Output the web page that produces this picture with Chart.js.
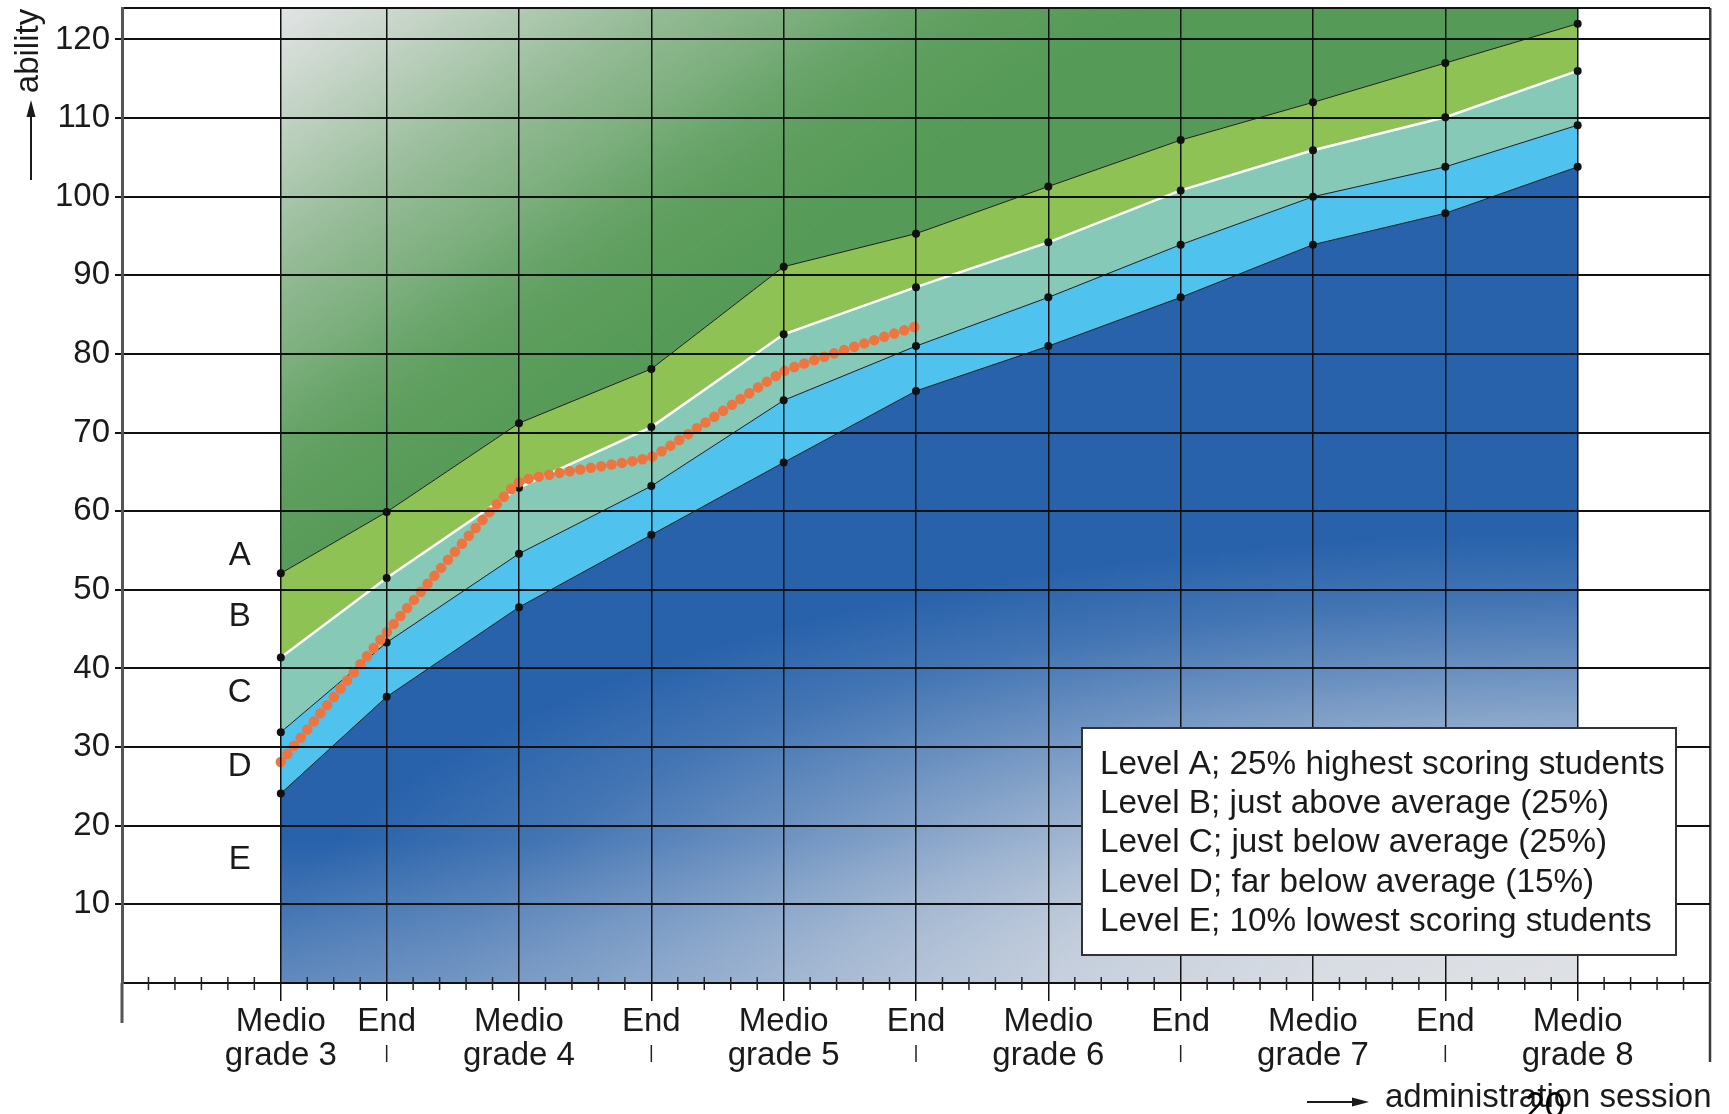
<!DOCTYPE html>
<html lang="en">
<head>
    <meta charset="UTF-8">
    <title>Ability per administration session</title>
    <script src="https://cdn.jsdelivr.net/npm/chart.js"></script>
    <style>
        html, body { margin: 0; padding: 0; background: #fff; }
        #chart-container { width: 1729px; height: 1114px; }
    </style>
</head>
<body>
    <div id="chart-container">
        <canvas id="myChart" width="1729" height="1114"></canvas>
    </div>
    <script>
        // months after "Medio grade 3", one per administration session
        var sessionMonth = [0, 4, 9, 14, 19, 24, 29, 34, 39, 44, 49];
        var sessionLabels = [['Medio', 'grade 3'], 'End', ['Medio', 'grade 4'], 'End', ['Medio', 'grade 5'], 'End',
                             ['Medio', 'grade 6'], 'End', ['Medio', 'grade 7'], 'End', ['Medio', 'grade 8']];

        // lower edge of each level (ability score)
        var levelA = [52.1, 59.9, 71.2, 78.1, 91.1, 95.3, 101.3, 107.2, 112.0, 117.0, 122.0];
        var levelB = [41.4, 51.5, 63.0, 70.7, 82.5, 88.5, 94.2, 100.8, 105.9, 110.1, 116.0];
        var levelC = [31.9, 43.3, 54.6, 63.2, 74.1, 81.0, 87.2, 93.9, 100.0, 103.8, 109.1];
        var levelD = [24.1, 36.4, 47.8, 57.0, 66.2, 75.3, 81.0, 87.2, 93.9, 97.9, 103.8];

        // one student's scores (first six sessions)
        var studentScore = [28.1, 44.6, 63.7, 66.9, 77.8, 83.5];

        var yTickValues = [0, 10, 20, 30, 40, 50, 60, 70, 80, 90, 100, 110, 120, 124];

        var levelLetters = ['A', 'B', 'C', 'D', 'E'];
        var legendLines = [
            'Level A; 25% highest scoring students',
            'Level B; just above average (25%)',
            'Level C; just below average (25%)',
            'Level D; far below average (15%)',
            'Level E; 10% lowest scoring students'
        ];

        var FONT = "'Liberation Sans', Arial, sans-serif";
        var INK = '#1a1a1a';

        function toPoints(values) {
            return values.map(function(v, i) { return { x: sessionMonth[i], y: v }; });
        }

        function isSession(v) {
            return v !== null && Math.abs(v - Math.round(v)) < 1e-6 && sessionMonth.indexOf(Math.round(v)) >= 0;
        }

        function greenFill(context) {
            var chart = context.chart;
            var area = chart.chartArea;
            if (!area) return '#559a56';
            var xs = chart.scales.x;
            var x0 = xs.getPixelForValue(0), y0 = area.top;
            var g = chart.ctx.createLinearGradient(x0, y0, x0 + 280, y0 + 409);
            g.addColorStop(0, '#e3e4e6');
            g.addColorStop(0.16, '#c7d5c9');
            g.addColorStop(0.32, '#a9c6ab');
            g.addColorStop(0.44, '#94ba95');
            g.addColorStop(0.58, '#7fb080');
            g.addColorStop(0.70, '#6aa56b');
            g.addColorStop(0.80, '#5e9e5e');
            g.addColorStop(1, '#559a56');
            return g;
        }

        var bluePattern = null;
        function blueFill(context) {
            var chart = context.chart;
            var area = chart.chartArea;
            if (!area) return '#2862ab';
            if (bluePattern) return bluePattern;
            var xs = chart.scales.x, ys = chart.scales.y;
            var c = document.createElement('canvas');
            c.width = chart.width;
            c.height = chart.height;
            var g = c.getContext('2d');
            g.fillStyle = '#2862ab';
            g.fillRect(0, 0, c.width, c.height);

            // paler toward the bottom edge
            var top = ys.getPixelForValue(18), bottom = ys.getPixelForValue(0);
            var lin = g.createLinearGradient(0, top, 0, bottom);
            lin.addColorStop(0, 'rgba(223,225,229,0)');
            lin.addColorStop(1, 'rgba(223,225,229,0.3)');
            g.fillStyle = lin;
            g.fillRect(0, 0, c.width, c.height);

            // and much paler toward the bottom-right corner
            var cx = xs.getPixelForValue(49.5), cy = ys.getPixelForValue(-0.9);
            var rx = 0.84 * (area.right - area.left), ry = 0.47 * (area.bottom - area.top);
            g.save();
            g.translate(cx, cy);
            g.scale(rx / ry, 1);
            var rad = g.createRadialGradient(0, 0, 0, 0, 0, ry);
            rad.addColorStop(0, 'rgba(223,225,229,1)');
            rad.addColorStop(0.2, 'rgba(223,225,229,0.95)');
            rad.addColorStop(0.4, 'rgba(223,225,229,0.8)');
            rad.addColorStop(0.55, 'rgba(223,225,229,0.6)');
            rad.addColorStop(0.7, 'rgba(223,225,229,0.37)');
            rad.addColorStop(0.85, 'rgba(223,225,229,0.15)');
            rad.addColorStop(1, 'rgba(223,225,229,0)');
            g.fillStyle = rad;
            g.fillRect(-5000, -5000, 10000, 10000);
            g.restore();

            bluePattern = chart.ctx.createPattern(c, 'no-repeat');
            return bluePattern;
        }

        function arrow(ctx, x1, y1, x2, y2) {
            var a = Math.atan2(y2 - y1, x2 - x1);
            ctx.beginPath();
            ctx.moveTo(x1, y1);
            ctx.lineTo(x2 - 12 * Math.cos(a), y2 - 12 * Math.sin(a));
            ctx.stroke();
            ctx.beginPath();
            ctx.moveTo(x2, y2);
            ctx.lineTo(x2 - 17 * Math.cos(a) + 4.5 * Math.sin(a), y2 - 17 * Math.sin(a) - 4.5 * Math.cos(a));
            ctx.lineTo(x2 - 17 * Math.cos(a) - 4.5 * Math.sin(a), y2 - 17 * Math.sin(a) + 4.5 * Math.cos(a));
            ctx.closePath();
            ctx.fill();
        }

        var decorations = {
            id: 'decorations',
            afterDraw: function(chart) {
                var ctx = chart.ctx;
                var xs = chart.scales.x, ys = chart.scales.y;
                var area = chart.chartArea;
                ctx.save();

                // minor ticks crossing the x axis
                ctx.strokeStyle = '#222';
                ctx.lineWidth = 1.5;
                xs.ticks.forEach(function(t) {
                    if (isSession(t.value) || t.value <= xs.min || t.value >= xs.max) return;
                    var px = xs.getPixelForValue(t.value);
                    ctx.beginPath();
                    ctx.moveTo(px, area.bottom - 6);
                    ctx.lineTo(px, area.bottom + 7);
                    ctx.stroke();
                });
                // short marks under the "End" labels
                sessionLabels.forEach(function(l, i) {
                    if (l !== 'End') return;
                    var px = xs.getPixelForValue(sessionMonth[i]);
                    ctx.beginPath();
                    ctx.moveTo(px, area.bottom + 62);
                    ctx.lineTo(px, area.bottom + 79);
                    ctx.stroke();
                });

                // frame lines running below the axis
                ctx.strokeStyle = '#555';
                ctx.lineWidth = 3;
                ctx.beginPath();
                ctx.moveTo(area.left, area.bottom);
                ctx.lineTo(area.left, area.bottom + 40);
                ctx.stroke();
                ctx.strokeStyle = '#3a3a3a';
                ctx.lineWidth = 2.5;
                ctx.beginPath();
                ctx.moveTo(area.right, area.bottom);
                ctx.lineTo(area.right, area.bottom + 79);
                ctx.stroke();

                ctx.fillStyle = INK;
                ctx.strokeStyle = INK;
                ctx.font = '33px ' + FONT;

                // y title with arrow
                ctx.save();
                ctx.translate(29, 51);
                ctx.rotate(-Math.PI / 2);
                ctx.textAlign = 'center';
                ctx.textBaseline = 'middle';
                ctx.fillText('ability', 0, 0);
                ctx.restore();
                ctx.lineWidth = 2;
                arrow(ctx, 31, 180, 31, 100);

                // level letters left of the first session
                var letterY = [54.3, 46.6, 36.9, 27.5, 15.6];
                ctx.textAlign = 'center';
                ctx.textBaseline = 'middle';
                levelLetters.forEach(function(l, i) {
                    ctx.fillText(l, xs.getPixelForValue(-1.55), ys.getPixelForValue(letterY[i]));
                });

                // legend box
                ctx.fillStyle = '#fff';
                ctx.fillRect(1082, 728, 594, 227);
                ctx.strokeStyle = '#333';
                ctx.lineWidth = 2;
                ctx.strokeRect(1082, 728, 594, 227);
                ctx.fillStyle = INK;
                ctx.textAlign = 'left';
                ctx.textBaseline = 'alphabetic';
                ctx.font = '33.3px ' + FONT;
                legendLines.forEach(function(t, i) {
                    ctx.fillText(t, 1100, 774 + i * 39.2);
                });

                // x title with arrow
                ctx.font = '33px ' + FONT;
                ctx.strokeStyle = INK;
                ctx.lineWidth = 2;
                arrow(ctx, 1307, 1102, 1369, 1102);
                ctx.fillText('administration session', 1385, 1107);

                ctx.font = '34px Lato, ' + FONT;
                ctx.fillStyle = '#000';
                ctx.textAlign = 'center';
                ctx.fillText('20', 1545, 1117);

                ctx.restore();
            }
        };

        Chart.defaults.font.family = FONT;
        Chart.defaults.color = INK;

        var lineStyle = {
            borderColor: '#1c1c1c',
            borderWidth: 1,
            pointRadius: 4,
            pointBackgroundColor: '#111',
            pointBorderWidth: 0,
            tension: 0,
            order: 0
        };

        var ctx = document.getElementById('myChart').getContext('2d');
        var myChart = new Chart(ctx, {
            type: 'line',
            data: {
                datasets: [
                    Object.assign({}, lineStyle, { label: 'Level E', data: toPoints(levelD), fill: 'origin', backgroundColor: blueFill }),
                    Object.assign({}, lineStyle, { label: 'Level D', data: toPoints(levelC), fill: 0, backgroundColor: '#50c2ee' }),
                    Object.assign({}, lineStyle, { label: 'Level C', data: toPoints(levelB), fill: 1, backgroundColor: '#85c9b6',
                                                   borderColor: '#ffffff', borderWidth: 2.5 }),
                    Object.assign({}, lineStyle, { label: 'Level B', data: toPoints(levelA), fill: 2, backgroundColor: '#8fc255' }),
                    { label: 'Level A', data: toPoints(levelA), fill: 'end', backgroundColor: greenFill,
                      borderWidth: 0, pointRadius: 0, tension: 0, order: 0 },
                    { label: 'Student', data: toPoints(studentScore), fill: false, borderColor: '#ee7440',
                      borderWidth: 10.5, borderDash: [0, 10.5], borderCapStyle: 'round', pointRadius: 0,
                      tension: 0.1, order: -1 }
                ]
            },
            options: {
                responsive: false,
                animation: false,
                devicePixelRatio: 1,
                events: [],
                layout: { padding: { top: 8, right: 19, bottom: 0, left: 0 } },
                plugins: { legend: { display: false }, tooltip: { enabled: false } },
                scales: {
                    x: {
                        type: 'linear',
                        min: -6,
                        max: 54,
                        afterFit: function(scale) {
                            scale.height = 131;
                            scale.paddingLeft = 0;
                            scale.paddingRight = 0;
                        },
                        border: { display: true, color: '#111', width: 2, z: 1 },
                        grid: {
                            z: 1,
                            color: function(c) {
                                var v = c.tick ? c.tick.value : null;
                                if (v === 54) return '#3a3a3a';
                                return isSession(v) ? '#111' : 'rgba(0,0,0,0)';
                            },
                            lineWidth: function(c) { return c.tick && c.tick.value === 54 ? 2.5 : 1.5; },
                            drawTicks: true,
                            tickLength: 18,
                            tickWidth: 1.5,
                            tickColor: function(c) { return c.tick && isSession(c.tick.value) ? '#111' : 'rgba(0,0,0,0)'; }
                        },
                        ticks: {
                            stepSize: 1,
                            autoSkip: false,
                            maxTicksLimit: 200,
                            maxRotation: 0,
                            minRotation: 0,
                            padding: 4,
                            color: INK,
                            font: { size: 33, lineHeight: 1.03 },
                            callback: function(value) {
                                if (!isSession(value)) return '';
                                return sessionLabels[sessionMonth.indexOf(Math.round(value))];
                            }
                        }
                    },
                    y: {
                        type: 'linear',
                        min: 0,
                        max: 124,
                        afterBuildTicks: function(scale) {
                            scale.ticks = yTickValues.map(function(v) { return { value: v }; });
                        },
                        afterFit: function(scale) {
                            scale.width = 122;
                            scale.paddingTop = 0;
                            scale.paddingBottom = 0;
                        },
                        border: { display: true, color: '#555', width: 3, z: 1 },
                        grid: {
                            z: 1,
                            color: '#111',
                            lineWidth: 2,
                            drawTicks: true,
                            tickLength: 7,
                            tickWidth: 2,
                            tickColor: function(c) {
                                var v = c.tick ? c.tick.value : 0;
                                return (v === 0 || v === 124) ? 'rgba(0,0,0,0)' : '#111';
                            }
                        },
                        ticks: {
                            autoSkip: false,
                            padding: 5,
                            color: INK,
                            font: { size: 33 },
                            callback: function(value) {
                                return (value > 0 && value % 10 === 0) ? String(value) : '';
                            }
                        }
                    }
                }
            },
            plugins: [decorations]
        });
    </script>
</body>
</html>
